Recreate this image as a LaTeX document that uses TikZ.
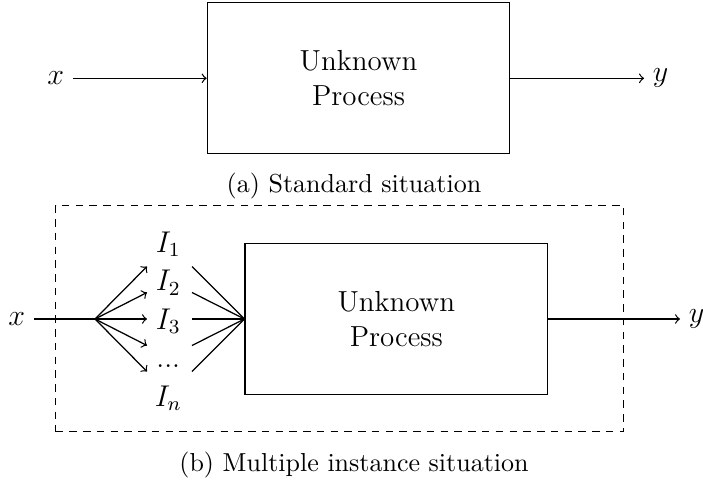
\documentclass[tikz,border=0pt]{standalone}
\begin{document}
\begin{tikzpicture}[x=0.4pt,y=-0.4pt,
  font=\fontsize{11.6pt}{14pt}\selectfont,
  line width=0.5pt, >=to]
\tikzset{
  procbox/.style={draw, minimum width=120.96pt, minimum height=60.4pt,
    inner sep=0pt, align=center},
  capt/.style={font=\fontsize{10.4pt}{12.5pt}\selectfont, anchor=base},
  groupframe/.style={draw, dash pattern=on 3pt off 2.5pt,
    minimum width=227pt, minimum height=90.5pt, inner sep=0pt},
  inst/.style={anchor=base, inner sep=0pt}
}
\useasboundingbox (0,0) rectangle (703,481);

% (a) single input, single output
\node[procbox] (boxA) at (358.5,78.3) {Unknown\\Process};
\node (xA) at (55.7,78.3) {$x$};
\node (yA) at (660.7,78.3) {$y$};
\draw[->] (xA) -- (boxA);
\draw[->] (boxA) -- (yA);
\node[capt] (capA) at (354,192.7) {(a) Standard situation};

% (b) input split into several instances
\node[groupframe] (grp) at (339.5,318.6) {};
\node[procbox] (boxB) at (396.3,319) {Unknown\\Process};
\node (xB) at (16.7,319) {$x$};
\node (yB) at (696.7,319) {$y$};
\coordinate (br) at (95,319);
\draw (xB) -- (br);
\draw[->] (boxB) -- (yB);
\foreach \i/\d in {1/-52.5,2/-26.5,3/0,4/26.5,5/52.5}{
  \coordinate (t\i) at (147,319+\d);
  \coordinate (s\i) at (192,319+\d);
  \draw[->] (br) -- (t\i);
  \draw (s\i) -- (boxB.west);
}
\node[inst] (I1) at (168.3,252) {$I_1$};
\node[inst] (I2) at (168.3,290.5) {$I_2$};
\node[inst] (I3) at (168.3,329) {$I_3$};
\node[inst] (I4) at (168.3,367.5) {...};
\node[inst] (I5) at (168.3,406) {$I_n$};
\node[capt] (capB) at (354,471.7) {(b) Multiple instance situation};
\end{tikzpicture}
\end{document}
